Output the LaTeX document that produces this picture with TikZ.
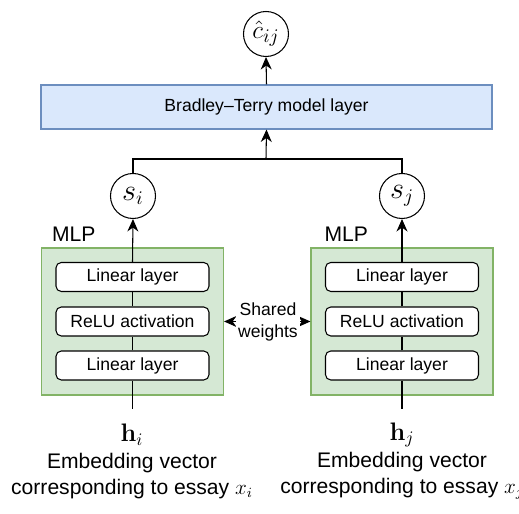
\documentclass[tikz,border=0pt]{standalone}
\usepackage{amsmath}
\usepackage[no-math]{fontspec}
\setmainfont{Liberation Sans}
\usetikzlibrary{arrows.meta,positioning}
\definecolor{btfill}{HTML}{DAE8FC}
\definecolor{btdraw}{HTML}{6C8EBF}
\definecolor{mlpfill}{HTML}{D5E8D4}
\definecolor{mlpdraw}{HTML}{82B366}
\tikzset{
    bt diagram/.style = {>={Stealth[length=2.5mm, width=2.2mm, inset=0.8mm]}},
    line/.style       = {semithick},
    btlayer/.style    = {draw=btdraw, fill=btfill, semithick,
                         minimum width=9.02cm, minimum height=0.88cm,
                         font=\fontsize{10}{12}\selectfont},
    mlpbox/.style     = {draw=mlpdraw, fill=mlpfill, semithick,
                         minimum width=3.64cm, minimum height=2.94cm},
    layer/.style      = {draw, fill=white, semithick, rounded corners=3pt,
                         minimum width=3.06cm, minimum height=0.58cm,
                         font=\fontsize{10}{12}\selectfont},
    score/.style      = {draw, semithick, circle, fill=white,
                         minimum size=0.9cm, inner sep=0pt,
                         font=\fontsize{16}{18}\selectfont},
    tag/.style        = {font=\fontsize{12}{14}\selectfont},
    vec/.style        = {font=\fontsize{14}{16}\selectfont},
    caption/.style    = {font=\fontsize{12}{14.7}\selectfont, align=center},
    shared/.style     = {font=\fontsize{10}{12}\selectfont, align=center,
                         fill=white, inner sep=1pt}
}

\begin{document}
\begin{tikzpicture}[bt diagram]
\useasboundingbox (0,0) rectangle (10.38,10.28);

% ================= Output and Bradley--Terry layer =================
\node[score, font=\fontsize{15}{17}\selectfont] (cij) at (5.32, 9.60) {$\hat{c}_{ij}$};
\node[btlayer] (bt) at (5.33, 8.14) {Bradley--Terry model layer};
\draw[->, line] (bt.north) -- (cij.south);

% ================= Scores =================
\node[score] (si) at (2.66, 6.36) {$s_i$};
\node[score] (sj) at (8.04, 6.36) {$s_j$};
\coordinate (join) at (5.32, 7.10);
\draw[line] (si.north) |- (join) -| (sj.north);
\draw[->, line] (join) -- (bt.south);

% ================= MLP branch i =================
\node[mlpbox] (mlpi) at (2.65, 3.85) {};
\node[tag, anchor=south west] at ([xshift=0.1cm]mlpi.north west) {MLP};
\node[layer] (linBi) at (2.65, 4.74) {Linear layer};
\node[layer] (relui) at (2.65, 3.85) {ReLU activation};
\node[layer] (linAi) at (2.65, 2.97) {Linear layer};
\coordinate (ini) at (2.65, 2.10);
\draw[line] (ini) -- (linAi.south);
\draw[line] (linAi) -- (relui);
\draw[line] (relui) -- (linBi);
\draw[->, line] (linBi.north) -- (si.south);

% ================= MLP branch j =================
\node[mlpbox] (mlpj) at (8.04, 3.85) {};
\node[tag, anchor=south west] at ([xshift=0.16cm]mlpj.north west) {MLP};
\node[layer] (linBj) at (8.04, 4.74) {Linear layer};
\node[layer] (reluj) at (8.04, 3.85) {ReLU activation};
\node[layer] (linAj) at (8.04, 2.97) {Linear layer};
\coordinate (inj) at (8.04, 2.10);
\draw[line] (inj) -- (linAj.south);
\draw[line] (linAj) -- (reluj);
\draw[line] (reluj) -- (linBj);
\draw[->, line] (linBj.north) -- (sj.south);

% ================= Shared weights =================
\draw[<->, line] (mlpi.east) -- (mlpj.west);
\node[shared] (share) at (5.36, 3.84) {Shared\\weights};

% ================= Inputs =================
\node[vec] (hi) at (2.64, 1.58) {$\mathbf{h}_i$};
\node[vec] (hj) at (8.04, 1.58) {$\mathbf{h}_j$};
\node[caption] (embi) at (2.64, 0.76)
    {Embedding vector\\corresponding to essay $x_i$};
\node[caption] (embj) at (8.04, 0.76)
    {Embedding vector\\corresponding to essay $x_j$};

\end{tikzpicture}
\end{document}
